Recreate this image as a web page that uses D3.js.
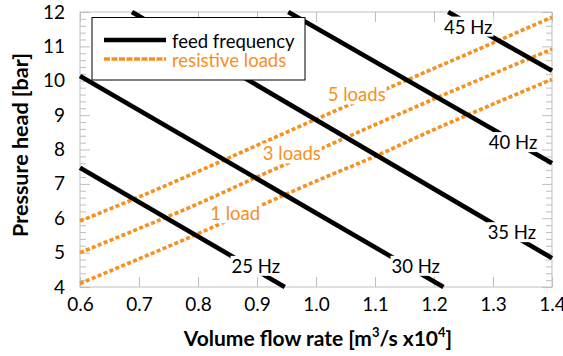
<!DOCTYPE html>
<html>
<head>
<meta charset="utf-8">
<script src="https://cdn.jsdelivr.net/npm/d3@7"></script>
<style>
  html, body { margin: 0; padding: 0; background: #fff; }
  svg { display: block; font-family: Lato, "Open Sans", sans-serif; }
</style>
</head>
<body>
<svg id="chart" width="563" height="356"></svg>
<script>
// Axis ticks
const flowTicks = [0.6, 0.7, 0.8, 0.9, 1.0, 1.1, 1.2, 1.3, 1.4];
const headTicks = [4, 5, 6, 7, 8, 9, 10, 11, 12];

// Pump curves at fixed feed frequency: flow [m3/s x1e4] and head [bar] at segment ends
const freqLabels = ["25 Hz", "30 Hz", "35 Hz", "40 Hz", "45 Hz"];
const freqFlow = [[0.6, 0.947], [0.6, 1.216], [0.688, 1.4], [0.953, 1.4], [1.224, 1.4]];
const freqHead = [[7.47, 4.0], [10.14, 4.0], [12.0, 4.84], [12.0, 7.60], [12.0, 10.29]];

// System curves for the number of resistive loads
const loadFlow = [0.6, 0.7, 0.8, 0.9, 1.0, 1.1, 1.2, 1.3, 1.4];
const loadLabels = ["1 load", "3 loads", "5 loads"];
const load1 = [4.10, 4.82, 5.55, 6.32, 7.08, 7.80, 8.58, 9.32, 10.04];
const load3 = [5.00, 5.70, 6.42, 7.20, 7.96, 8.72, 9.47, 10.20, 10.92];
const load5 = [5.92, 6.62, 7.36, 8.12, 8.88, 9.62, 10.36, 11.10, 11.85];
const loadHeads = [load1, load3, load5];

// Where the curve names sit, in data units [flow, head]
const freqLabelAt = [[0.898, 4.60], [1.169, 4.60], [1.332, 5.58], [1.334, 8.20], [1.258, 11.56]];
const loadLabelAt = [[0.863, 6.13], [0.959, 7.87], [1.069, 9.59]];

const black = "#000000";
const orange = "#F7901E";
const frameGrey = "#bfbfbf";

const svg = d3.select("#chart");
const m = { left: 80, top: 12, right: 11, bottom: 69 };
const W = 563, H = 356;
const pw = W - m.left - m.right, ph = H - m.top - m.bottom;

const x = d3.scaleLinear().domain([0.6, 1.4]).range([m.left, m.left + pw]);
const y = d3.scaleLinear().domain([4, 12]).range([m.top + ph, m.top]);

// Minor head ticks every 0.2 bar
const minorHead = d3.range(4, 12.001, 0.2).map(v => +v.toFixed(1)).filter(v => Math.abs(v - Math.round(v)) > 1e-6);

function styleAxis(g) {
  g.select(".domain").remove();
  g.selectAll(".tick line").attr("stroke", frameGrey).attr("stroke-width", 1);
  g.selectAll(".tick text").attr("fill", "#000").style("font-size", "19px").style("font-family", "Lato, sans-serif");
}

// Bottom axis with labels
svg.append("g").attr("transform", `translate(0,${m.top + ph})`)
  .call(d3.axisBottom(x).tickValues(flowTicks).tickFormat(d3.format(".1f")).tickSizeInner(-10).tickSizeOuter(0).tickPadding(11))
  .call(styleAxis);
// Top axis ticks
svg.append("g").attr("transform", `translate(0,${m.top})`)
  .call(d3.axisTop(x).tickValues(flowTicks).tickFormat("").tickSizeInner(-10).tickSizeOuter(0))
  .call(styleAxis);
// Left axis with labels
svg.append("g").attr("transform", `translate(${m.left},0)`)
  .call(d3.axisLeft(y).tickValues(headTicks).tickFormat(d3.format("d")).tickSizeInner(-10).tickSizeOuter(0).tickPadding(15))
  .call(styleAxis);
svg.append("g").attr("transform", `translate(${m.left},0)`)
  .call(d3.axisLeft(y).tickValues(minorHead).tickFormat("").tickSizeInner(-6).tickSizeOuter(0))
  .call(styleAxis);
// Right axis ticks
svg.append("g").attr("transform", `translate(${m.left + pw},0)`)
  .call(d3.axisRight(y).tickValues(headTicks).tickFormat("").tickSizeInner(-10).tickSizeOuter(0))
  .call(styleAxis);
svg.append("g").attr("transform", `translate(${m.left + pw},0)`)
  .call(d3.axisRight(y).tickValues(minorHead).tickFormat("").tickSizeInner(-6).tickSizeOuter(0))
  .call(styleAxis);

// Plot frame
svg.append("rect")
  .attr("x", m.left).attr("y", m.top).attr("width", pw).attr("height", ph)
  .attr("fill", "none").attr("stroke", frameGrey).attr("stroke-width", 1);

const line = d3.line().x(d => x(d[0])).y(d => y(d[1]));
const smooth = d3.line().x(d => x(d[0])).y(d => y(d[1])).curve(d3.curveMonotoneX);

// System curves (dotted orange)
svg.append("g").selectAll("path")
  .data(loadHeads.map(hs => loadFlow.map((q, i) => [q, hs[i]])))
  .join("path")
  .attr("d", smooth)
  .attr("fill", "none")
  .attr("stroke", orange)
  .attr("stroke-width", 3.6)
  .attr("stroke-dasharray", "4,2.4");

// Pump curves (solid black)
svg.append("g").selectAll("path")
  .data(freqFlow.map((qs, i) => qs.map((q, j) => [q, freqHead[i][j]])))
  .join("path")
  .attr("d", line)
  .attr("fill", "none")
  .attr("stroke", black)
  .attr("stroke-width", 4.6);

// Curve names on white backgrounds
function addLabels(names, at, color) {
  const g = svg.append("g");
  names.forEach((name, i) => {
    const lg = g.append("g");
    const t = lg.append("text")
      .attr("x", x(at[i][0]))
      .attr("y", y(at[i][1]))
      .attr("text-anchor", "middle")
      .attr("dy", "0.35em")
      .attr("fill", color)
      .style("font-size", "18.5px")
      .text(name);
    const b = t.node().getBBox();
    lg.insert("rect", "text")
      .attr("x", b.x - 1).attr("y", b.y + 1)
      .attr("width", b.width + 2).attr("height", b.height - 2)
      .attr("fill", "#fff");
  });
}
addLabels(freqLabels, freqLabelAt, "#000");
addLabels(loadLabels, loadLabelAt, orange);

// Legend
const leg = svg.append("g");
leg.append("rect")
  .attr("x", 92).attr("y", 17.5).attr("width", 213).attr("height", 62.5)
  .attr("fill", "#fff").attr("stroke", "#000").attr("stroke-width", 1);
leg.append("line").attr("x1", 104).attr("x2", 166).attr("y1", 40).attr("y2", 40)
  .attr("stroke", black).attr("stroke-width", 4.6);
leg.append("line").attr("x1", 104).attr("x2", 166).attr("y1", 59).attr("y2", 59)
  .attr("stroke", orange).attr("stroke-width", 3.6).attr("stroke-dasharray", "6,1.5");
leg.append("text").attr("x", 172).attr("y", 47.5).attr("fill", "#000")
  .style("font-size", "18.5px").text("feed frequency");
leg.append("text").attr("x", 172).attr("y", 66.5).attr("fill", orange)
  .style("font-size", "18.5px").text("resistive loads");

// Axis titles
const xt = svg.append("text")
  .attr("x", 318).attr("y", 346)
  .attr("text-anchor", "middle")
  .style("font-size", "21px").style("font-weight", "bold");
xt.append("tspan").text("Volume flow rate [m");
xt.append("tspan").attr("dy", -9).style("font-size", "13px").text("3");
xt.append("tspan").attr("dy", 9).text("/s x10");
xt.append("tspan").attr("dy", -9).style("font-size", "13px").text("4");
xt.append("tspan").attr("dy", 9).text("]");

svg.append("text")
  .attr("transform", "translate(28,145) rotate(-90)")
  .attr("text-anchor", "middle")
  .style("font-size", "21.5px").style("font-weight", "bold")
  .text("Pressure head [bar]");
</script>
</body>
</html>
